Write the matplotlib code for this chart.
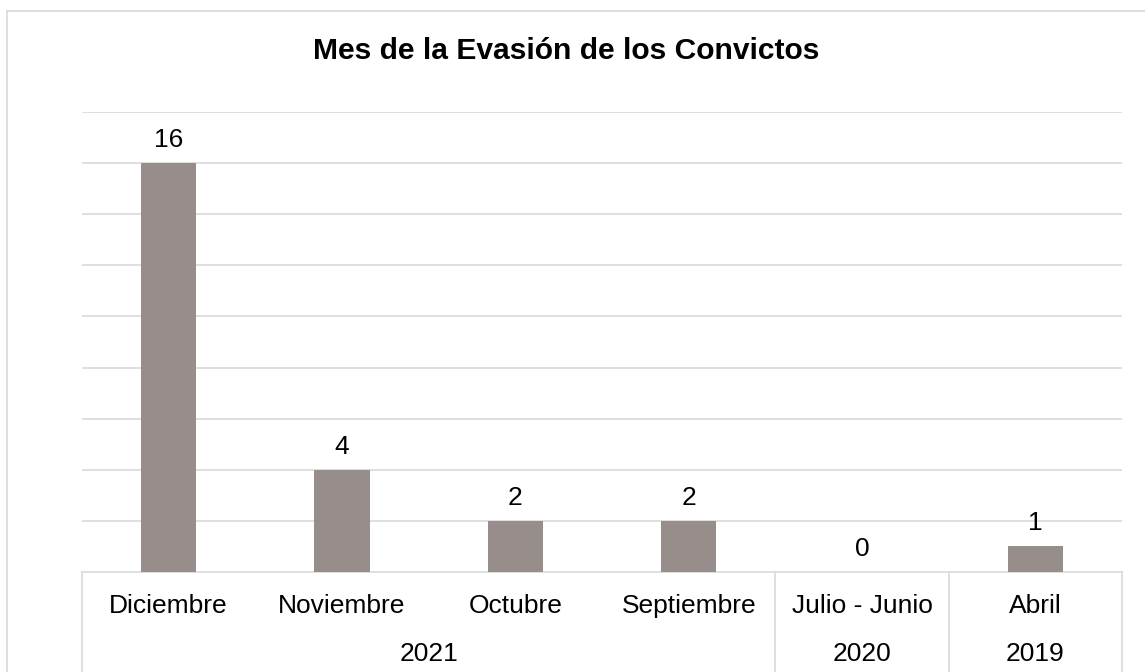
import matplotlib
matplotlib.use('Agg')
import matplotlib.pyplot as plt
from matplotlib.lines import Line2D
import numpy as np

plt.rcParams['font.family'] = ['Liberation Sans', 'DejaVu Sans']

# data
months = ['Diciembre', 'Noviembre', 'Octubre', 'Septiembre', 'Julio - Junio', 'Abril']
counts = [16, 4, 2, 2, 0, 1]
years = ['2021', '2020', '2019']
year_spans = [(0, 4), (4, 5), (5, 6)]  # category index ranges per year

bar_color = '#978D8B'
grid_color = '#D9D9D9'

fig = plt.figure(figsize=(11.45, 6.72), dpi=100)
W, H = 1145, 672

# outer chart border (only left and top are visible, the rest is cropped)
bx, by = 6.5 / W, 1 - 10.5 / H
fig.lines.append(Line2D([bx, bx], [0, by], transform=fig.transFigure,
                        color=grid_color, linewidth=1.2))
fig.lines.append(Line2D([bx, 1.01], [by, by], transform=fig.transFigure,
                        color=grid_color, linewidth=1.2))

ax = fig.add_axes([82 / W, 1 - 572 / H, (1122 - 82) / W, (572 - 112) / H])

x = np.arange(len(months))
bars = ax.bar(x, counts, width=0.32, color=bar_color, zorder=3)

for xi, v in zip(x, counts):
    ax.annotate(str(v), (xi, v), xytext=(0, 8), textcoords='offset points',
                ha='center', va='bottom', fontsize=19, color='black')

ax.set_xlim(-0.5, len(months) - 0.5)
ax.set_ylim(0, 18)
ax.set_yticks(np.arange(2, 19, 2))
ax.yaxis.grid(True, color=grid_color, linewidth=1.2, zorder=0)
ax.tick_params(left=False, labelleft=False, bottom=False, labelbottom=False)
for s in ['left', 'right', 'top']:
    ax.spines[s].set_visible(False)
ax.spines['bottom'].set_color(grid_color)
ax.spines['bottom'].set_linewidth(1.2)

# multi-level category axis
n = len(months)
ax_h = 572 - 112
y_cat = -34 / ax_h
y_year = -82 / ax_h
for xi, m in zip(x, months):
    ax.text((xi + 0.5) / n, y_cat, m, transform=ax.transAxes,
            ha='center', va='center', fontsize=19)
for yr, (a, b) in zip(years, year_spans):
    ax.text((a + b) / 2 / n, y_year, yr, transform=ax.transAxes,
            ha='center', va='center', fontsize=19)

bounds = sorted(set([0] + [b for _, b in year_spans]))
for bnd in bounds:
    ax.plot([bnd / n, bnd / n], [0, -0.3], transform=ax.transAxes,
            color=grid_color, linewidth=1.2, clip_on=False)

fig.text(566 / W, 1 - 51 / H, 'Mes de la Evasión de los Convictos',
         ha='center', va='center', fontsize=21.6, fontweight='bold')

fig.savefig('out.png', dpi=100)
